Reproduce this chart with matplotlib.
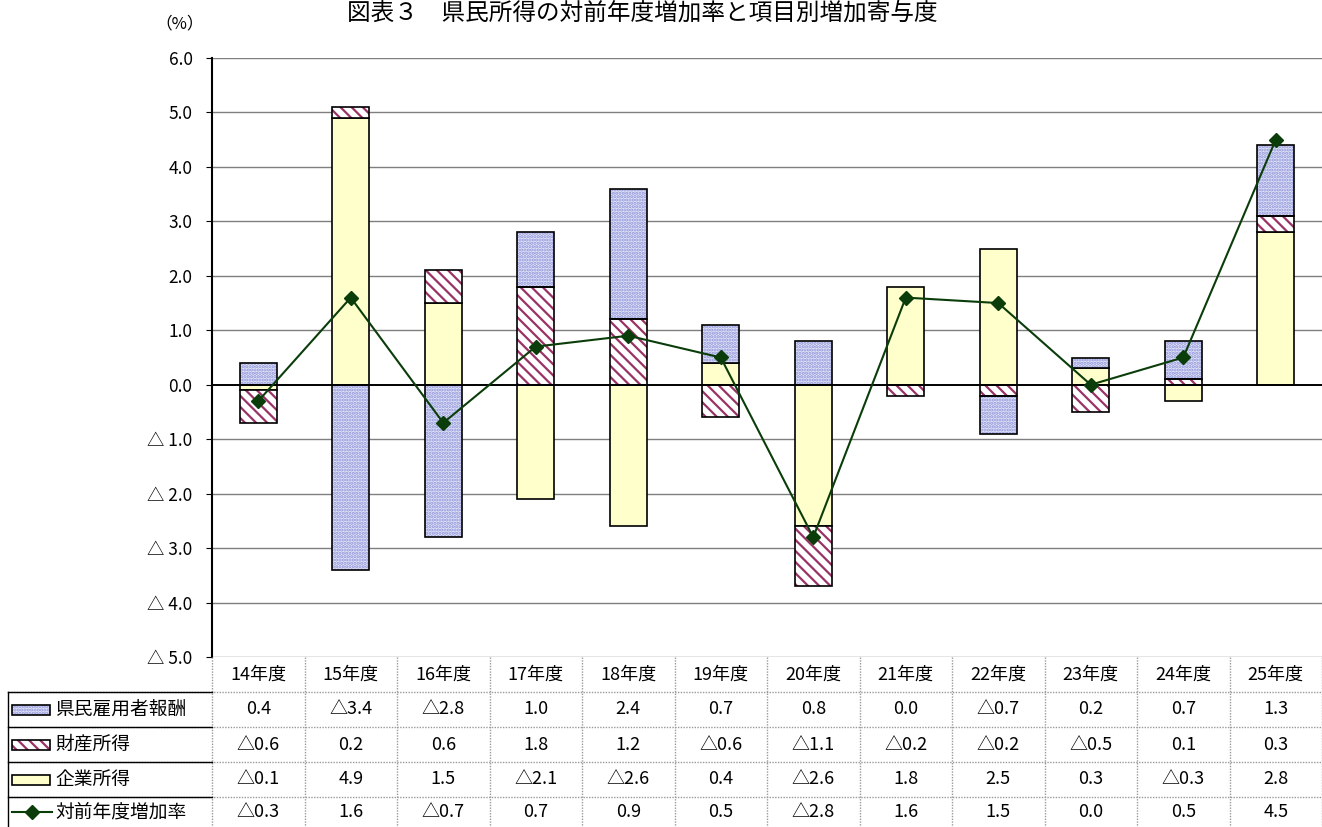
import matplotlib
matplotlib.use('Agg')
import matplotlib.pyplot as plt
from matplotlib.patches import Rectangle
from matplotlib.lines import Line2D

plt.rcParams['font.family'] = ['Noto Sans CJK JP', 'DejaVu Sans']
plt.rcParams['hatch.linewidth'] = 1.6

# data
years = ['14年度', '15年度', '16年度', '17年度', '18年度', '19年度',
         '20年度', '21年度', '22年度', '23年度', '24年度', '25年度']
koyosha = [0.4, -3.4, -2.8, 1.0, 2.4, 0.7, 0.8, 0.0, -0.7, 0.2, 0.7, 1.3]
zaisan = [-0.6, 0.2, 0.6, 1.8, 1.2, -0.6, -1.1, -0.2, -0.2, -0.5, 0.1, 0.3]
kigyo = [-0.1, 4.9, 1.5, -2.1, -2.6, 0.4, -2.6, 1.8, 2.5, 0.3, -0.3, 2.8]
zoka = [-0.3, 1.6, -0.7, 0.7, 0.9, 0.5, -2.8, 1.6, 1.5, 0.0, 0.5, 4.5]

W, H = 1322, 827
fig = plt.figure(figsize=(W / 100, H / 100), dpi=100)

x0, x1, ytop, ybot = 212, 1322, 58, 657
ax = fig.add_axes([x0 / W, 1 - ybot / H, (x1 - x0) / W, (ybot - ytop) / H])

n = len(years)
xs = list(range(n))
bw = 0.40

blue_face, blue_dot = '#e4e6f8', '#8d93d9'
red_hatch = '#993366'
yellow = '#ffffcc'


def draw_seg(x, b, h, kind):
    if h == 0:
        return
    if kind == 'kigyo':
        ax.bar(x, h, bw, bottom=b, color=yellow, edgecolor='black', lw=1.2, zorder=3)
    elif kind == 'zaisan':
        ax.bar(x, h, bw, bottom=b, color='white', edgecolor=red_hatch, hatch='\\\\\\',
               lw=0, zorder=3)
        ax.bar(x, h, bw, bottom=b, fill=False, edgecolor='black', lw=1.2, zorder=4)
    else:
        ax.bar(x, h, bw, bottom=b, color=blue_face, edgecolor=blue_dot, hatch='.....',
               lw=0, zorder=3)
        ax.bar(x, h, bw, bottom=b, fill=False, edgecolor='black', lw=1.2, zorder=4)


# stacked columns, positives and negatives stacked separately
for i in xs:
    pos, neg = 0.0, 0.0
    for val, kind in [(kigyo[i], 'kigyo'), (zaisan[i], 'zaisan'), (koyosha[i], 'koyosha')]:
        if val >= 0:
            draw_seg(i, pos, val, kind)
            pos += val
        else:
            draw_seg(i, neg, val, kind)
            neg += val

ax.plot(xs, zoka, color='#0b3d0b', lw=1.5, marker='D', ms=7, zorder=6)

ax.set_xlim(-0.5, n - 0.5)
ax.set_ylim(-5, 6)
yt = [6, 5, 4, 3, 2, 1, 0, -1, -2, -3, -4, -5]
ax.set_yticks(yt)
ax.set_yticklabels([f'{v:.1f}' if v >= 0 else f'△ {abs(v):.1f}' for v in yt], fontsize=12.5)
ax.tick_params(axis='y', length=4, pad=10)
ax.set_xticks([])
for v in yt:
    if v != 0:
        ax.axhline(v, color='#7f7f7f', lw=1.0, zorder=1)
ax.axhline(0, color='black', lw=1.4, zorder=5)
for s in ['top', 'right', 'bottom']:
    ax.spines[s].set_visible(False)
ax.spines['left'].set_linewidth(1.5)

# title and unit
fig.text(642 / W, 1 - 13 / H, '図表３　県民所得の対前年度増加率と項目別増加寄与度',
         ha='center', va='center', fontsize=17)
fig.text(180 / W, 1 - 24 / H, '（%）', ha='center', va='center', fontsize=12)

# data table below the chart
tab = fig.add_axes([0, 0, 1, 1])
tab.set_xlim(0, W)
tab.set_ylim(H, 0)
tab.axis('off')

cw = (x1 - x0) / n
rows_y = [657, 692, 727, 762, 797, 832]
grid_c = '#9a9a9a'
for k in range(n + 1):
    tab.plot([x0 + k * cw] * 2, [rows_y[0], H], color=grid_c, lw=1, ls=(0, (1, 1)))
for y in rows_y[1:-1]:
    tab.plot([8, W], [y, y], color=grid_c, lw=1, ls=(0, (1, 1)))
tab.plot([8, 8], [rows_y[1], H], color='black', lw=1)
tab.plot([8, x0], [rows_y[1], rows_y[1]], color='black', lw=1)
for y in rows_y[2:-1]:
    tab.plot([8, x0], [y, y], color='black', lw=1)

fmt = lambda v: f'{v:.1f}' if v >= 0 else f'△{abs(v):.1f}'
for k, yr in enumerate(years):
    cx = x0 + (k + 0.5) * cw
    tab.text(cx, (rows_y[0] + rows_y[1]) / 2, yr, ha='center', va='center', fontsize=13)
    for r, series in enumerate([koyosha, zaisan, kigyo, zoka]):
        tab.text(cx, (rows_y[r + 1] + rows_y[r + 2]) / 2 if r < 3 else 812, fmt(series[k]),
                 ha='center', va='center', fontsize=13)

labels = ['県民雇用者報酬', '財産所得', '企業所得', '対前年度増加率']
for r, lab in enumerate(labels):
    cy = (rows_y[r + 1] + rows_y[r + 2]) / 2 if r < 3 else 812
    if r == 0:
        tab.add_patch(Rectangle((12, cy - 5), 38, 10, facecolor=blue_face, edgecolor=blue_dot,
                                hatch='.....', lw=0))
        tab.add_patch(Rectangle((12, cy - 5), 38, 10, fill=False, edgecolor='black', lw=1.2))
    elif r == 1:
        tab.add_patch(Rectangle((12, cy - 5), 38, 10, facecolor='white', edgecolor=red_hatch,
                                hatch='\\\\\\', lw=0))
        tab.add_patch(Rectangle((12, cy - 5), 38, 10, fill=False, edgecolor='black', lw=1.2))
    elif r == 2:
        tab.add_patch(Rectangle((12, cy - 5), 38, 10, facecolor=yellow, edgecolor='black', lw=1.2))
    else:
        tab.add_line(Line2D([12, 52], [cy, cy], color='#0b3d0b', lw=1.5))
        tab.plot([32], [cy], marker='D', ms=7, color='#0b3d0b')
    tab.text(55, cy, lab, ha='left', va='center', fontsize=13.5)

fig.savefig('out.png', dpi=100)
